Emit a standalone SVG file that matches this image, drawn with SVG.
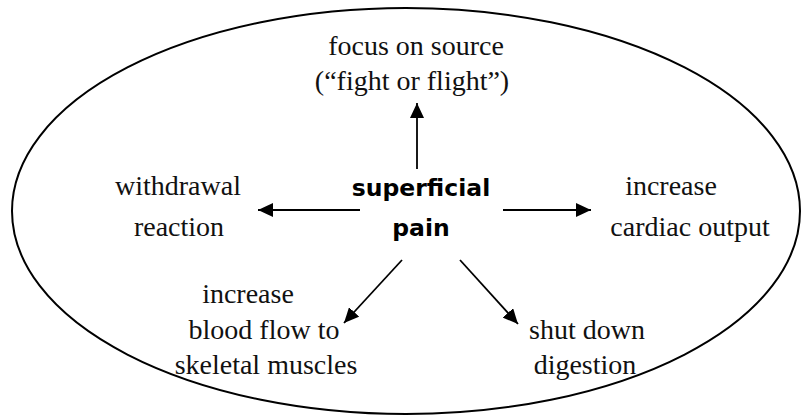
<svg xmlns="http://www.w3.org/2000/svg" width="801" height="417" viewBox="0 0 801 417">
<style>
text.t{font-family:'Liberation Serif','Times New Roman',serif;font-size:28px;fill:#111;text-anchor:middle}
text.c{font-family:'DejaVu Sans','Noto Sans',sans-serif;font-weight:bold;font-size:23.5px;fill:#000;text-anchor:middle}
.a{stroke:#000;stroke-width:1.8;fill:none;marker-end:url(#ah)}
</style>
<defs>
<marker id="ah" markerUnits="userSpaceOnUse" markerWidth="15" markerHeight="14" refX="15" refY="7" orient="auto">
<path d="M0,0 L15,7 L0,14 z" fill="#000"/>
</marker>
</defs>
<ellipse id="boundary" cx="406" cy="211" rx="394" ry="203" fill="#fff" stroke="#000" stroke-width="2"/>
<g id="connectors">
<line class="a" x1="417" y1="169" x2="417" y2="103"/>
<line class="a" x1="360" y1="210" x2="258" y2="210"/>
<line class="a" x1="503" y1="210" x2="591" y2="210"/>
<line class="a" x1="402" y1="260" x2="344" y2="323"/>
<line class="a" x1="460" y1="260" x2="518" y2="324"/>
</g>
<g id="center"><text class="c" x="421" y="196">superficial</text><text class="c" x="421" y="236">pain</text></g>
<g id="focus"><text class="t" x="416" y="55">focus on source</text><text class="t" x="412" y="90">(“fight or flight”)</text></g>
<g id="withdrawal"><text class="t" x="178" y="195">withdrawal</text><text class="t" x="179" y="236">reaction</text></g>
<g id="cardiac"><text class="t" x="671" y="195">increase</text><text class="t" x="690" y="236">cardiac output</text></g>
<g id="blood"><text class="t" x="248" y="303">increase</text><text class="t" x="264" y="339">blood flow to</text><text class="t" x="266" y="374">skeletal muscles</text></g>
<g id="digestion"><text class="t" x="587" y="339">shut down</text><text class="t" x="585" y="374">digestion</text></g>
</svg>
